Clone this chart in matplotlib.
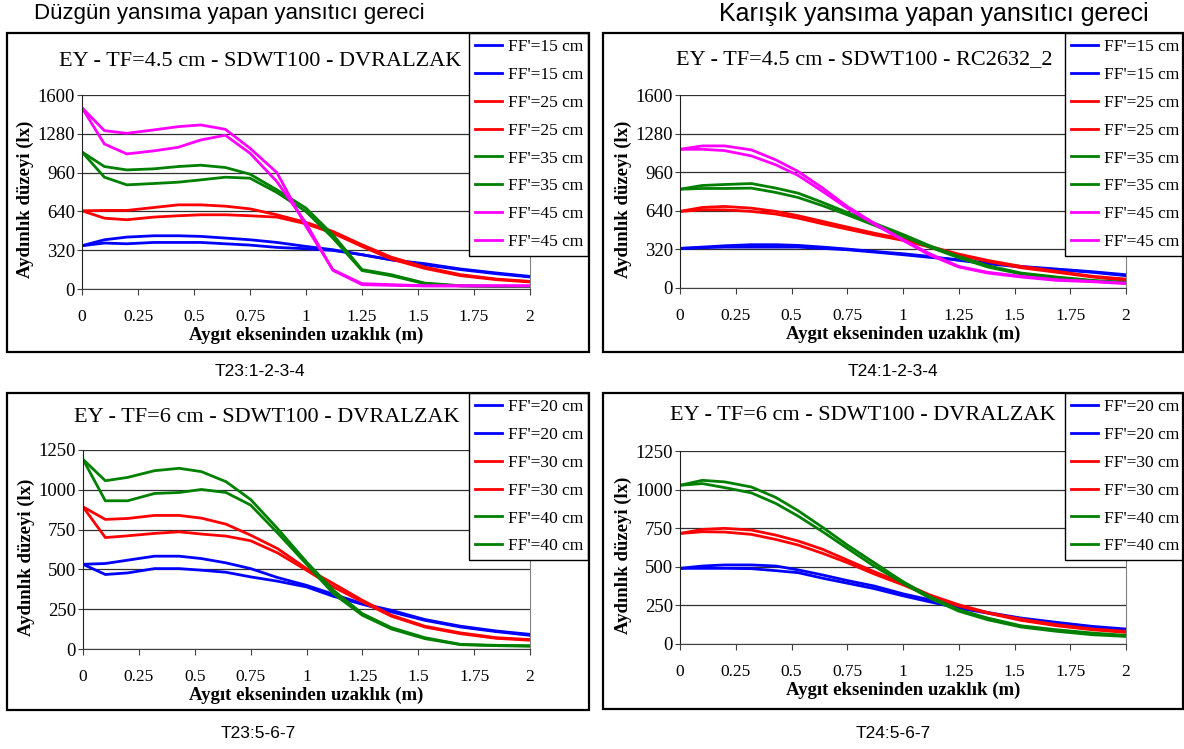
import matplotlib.pyplot as plt
from matplotlib.patches import Rectangle

# distance from the luminaire axis (m), same for every curve
dist = [0, 0.1, 0.2, 0.32, 0.43, 0.53, 0.64, 0.75, 0.87, 1.0, 1.12, 1.25, 1.38, 1.53, 1.69, 1.85, 2.0]

# T23:1-2-3-4  (TF=4.5 cm, DVRALZAK)
t23a_15a = [357, 406, 428, 439, 439, 434, 420, 406, 384, 351, 324, 283, 241, 209, 165, 132, 104]
t23a_15b = [357, 379, 373, 384, 384, 384, 373, 362, 343, 332, 318, 283, 241, 200, 160, 126, 99]
t23a_25a = [645, 648, 648, 672, 694, 694, 683, 661, 612, 549, 475, 365, 263, 181, 118, 82, 63]
t23a_25b = [645, 584, 571, 593, 604, 612, 612, 604, 593, 538, 461, 351, 247, 170, 110, 77, 58]
t23a_35a = [1130, 1010, 982, 991, 1010, 1021, 1002, 947, 818, 667, 447, 160, 118, 49, 27, 22, 22]
t23a_35b = [1130, 922, 859, 870, 881, 900, 922, 914, 796, 639, 420, 152, 110, 44, 25, 20, 20]
t23a_45a = [1495, 1306, 1284, 1312, 1339, 1353, 1317, 1161, 960, 516, 159, 44, 36, 27, 27, 27, 27]
t23a_45b = [1495, 1196, 1114, 1139, 1169, 1229, 1268, 1120, 886, 543, 154, 36, 30, 25, 25, 25, 25]

# T24:1-2-3-4  (TF=4.5 cm, RC2632_2)
t24a_15a = [328, 339, 350, 359, 359, 353, 339, 323, 303, 284, 262, 229, 201, 174, 152, 130, 102]
t24a_15b = [328, 334, 339, 339, 339, 339, 328, 317, 298, 276, 254, 235, 207, 179, 157, 135, 110]
t24a_25a = [635, 668, 676, 662, 635, 599, 552, 505, 455, 406, 345, 281, 229, 179, 138, 97, 74]
t24a_25b = [635, 648, 648, 635, 613, 579, 532, 488, 441, 395, 339, 273, 221, 168, 130, 91, 63]
t24a_35a = [819, 850, 858, 866, 828, 786, 709, 626, 538, 444, 350, 262, 185, 124, 91, 63, 47]
t24a_35b = [819, 825, 825, 828, 792, 750, 682, 607, 521, 428, 339, 251, 174, 116, 83, 58, 41]
t24a_45a = [1150, 1178, 1178, 1145, 1062, 966, 828, 676, 538, 400, 284, 179, 130, 97, 69, 55, 41]
t24a_45b = [1150, 1150, 1139, 1095, 1021, 933, 800, 662, 530, 395, 273, 174, 124, 91, 63, 52, 36]

# T23:5-6-7  (TF=6 cm)
t23b_20a = [532, 537, 558, 583, 583, 568, 541, 505, 449, 400, 344, 285, 243, 185, 143, 113, 92]
t23b_20b = [532, 468, 478, 505, 505, 495, 482, 453, 426, 390, 331, 281, 233, 180, 138, 109, 86]
t23b_30a = [893, 814, 820, 839, 839, 822, 784, 715, 631, 505, 411, 306, 212, 143, 101, 71, 59]
t23b_30b = [893, 700, 711, 726, 736, 722, 709, 680, 604, 495, 390, 296, 206, 138, 96, 67, 55]
t23b_40a = [1191, 1057, 1078, 1120, 1135, 1114, 1051, 939, 757, 547, 369, 222, 134, 71, 29, 23, 21]
t23b_40b = [1191, 931, 931, 977, 983, 1002, 983, 904, 730, 533, 348, 212, 126, 65, 27, 21, 17]

# T24:5-6-7  (TF=6 cm)
t24b_20a = [490, 505, 512, 512, 505, 480, 447, 411, 376, 325, 286, 239, 204, 168, 140, 114, 97]
t24b_20b = [490, 490, 490, 488, 475, 462, 426, 394, 359, 312, 273, 232, 200, 161, 136, 110, 88]
t24b_30a = [716, 742, 749, 738, 705, 667, 613, 544, 469, 394, 318, 254, 204, 161, 125, 97, 82]
t24b_30b = [716, 727, 725, 710, 677, 641, 587, 527, 454, 383, 312, 247, 200, 153, 118, 92, 75]
t24b_40a = [1028, 1060, 1050, 1017, 949, 863, 755, 641, 527, 404, 307, 222, 168, 118, 92, 71, 56]
t24b_40b = [1028, 1039, 1013, 979, 910, 828, 727, 620, 505, 394, 297, 213, 157, 110, 82, 60, 49]

labels_a = ["FF'=15 cm", "FF'=15 cm", "FF'=25 cm", "FF'=25 cm",
            "FF'=35 cm", "FF'=35 cm", "FF'=45 cm", "FF'=45 cm"]
labels_b = ["FF'=20 cm", "FF'=20 cm", "FF'=30 cm", "FF'=30 cm",
            "FF'=40 cm", "FF'=40 cm"]
colors = ['#0000FF', '#0000FF', '#FF0000', '#FF0000', '#008000', '#008000', '#FF00FF', '#FF00FF']

W, H = 1184, 749
serif = 'Liberation Serif'
sans = 'Liberation Sans'

fig = plt.figure(figsize=(W / 100, H / 100), dpi=100)


def px(x, y):
    # pixel position (from top-left) -> figure fraction
    return x / W, 1 - y / H


def panel(rect, series, labels, ymax, ystep, title, title_xy, leg_xy, frame):
    x0, y0, x1, y1 = rect
    ax = fig.add_axes([x0 / W, 1 - y1 / H, (x1 - x0) / W, (y1 - y0) / H])
    for vals, lab, col in zip(series, labels, colors):
        ax.plot(dist, vals, color=col, lw=2.0, label=lab)
    ax.set_xlim(0, 2)
    ax.set_ylim(0, ymax)
    ax.set_xticks([0, 0.25, 0.5, 0.75, 1, 1.25, 1.5, 1.75, 2])
    ax.set_xticklabels(['0', '0.25', '0.5', '0.75', '1', '1.25', '1.5', '1.75', '2'])
    ax.set_yticks(range(0, ymax + 1, ystep))
    ax.yaxis.grid(True, color='#303030', lw=0.9)
    ax.set_axisbelow(True)
    for lab in ax.get_xticklabels() + ax.get_yticklabels():
        lab.set_fontfamily(serif)
    ax.tick_params(axis='x', direction='out', length=4.5, pad=10, labelsize=12.5, color='#404040')
    ax.tick_params(axis='y', direction='out', length=3.5, pad=1.5, labelsize=13.5, color='#404040')
    ax.spines['top'].set_visible(False)
    ax.spines['right'].set_color('#808080')
    ax.spines['left'].set_color('#202020')
    ax.spines['bottom'].set_color('#404040')
    ax.set_xlabel('Aygıt ekseninden uzaklık (m)', fontfamily=serif, fontweight='bold', fontsize=13.5)
    ax.set_ylabel('Aydınlık düzeyi (lx)', fontfamily=serif, fontweight='bold', fontsize=13.5)
    ax.xaxis.set_label_coords(0.5, -38 / (y1 - y0))
    ax.yaxis.set_label_coords(-48 / (x1 - x0), 0.46)
    fig.text(*px(*title_xy), title, fontfamily=serif, fontsize=16, ha='center', va='center')
    ax.legend(loc='upper left', bbox_to_anchor=px(*leg_xy), bbox_transform=fig.transFigure,
              borderaxespad=0, prop={'family': serif, 'size': 12.5}, frameon=True,
              fancybox=False, framealpha=1, edgecolor='black', borderpad=0.32,
              labelspacing=0.68, handlelength=1.6, handletextpad=0.3)
    ax.get_legend().get_frame().set_linewidth(1.0)
    fx0, fy0, fx1, fy1 = frame
    fig.patches.append(Rectangle(px(fx0, fy1), (fx1 - fx0) / W, (fy1 - fy0) / H,
                                 transform=fig.transFigure, fill=False, ec='black', lw=1.6))
    return ax


panel((82, 95, 530, 289),
      [t23a_15a, t23a_15b, t23a_25a, t23a_25b, t23a_35a, t23a_35b, t23a_45a, t23a_45b],
      labels_a, 1600, 320, 'EY - TF=4.5 cm - SDWT100 - DVRALZAK', (260, 62),
      (469, 33), (7, 33, 589, 352))
panel((680, 95, 1126, 288),
      [t24a_15a, t24a_15b, t24a_25a, t24a_25b, t24a_35a, t24a_35b, t24a_45a, t24a_45b],
      labels_a, 1600, 320, 'EY - TF=4.5 cm - SDWT100 - RC2632_2', (864, 60),
      (1065, 33), (603, 33, 1183, 352))
panel((83, 450, 530, 649),
      [t23b_20a, t23b_20b, t23b_30a, t23b_30b, t23b_40a, t23b_40b],
      labels_b, 1250, 250, 'EY - TF=6 cm - SDWT100 - DVRALZAK', (267, 417),
      (469, 393), (7, 393, 589, 710))
panel((680, 451, 1126, 644),
      [t24b_20a, t24b_20b, t24b_30a, t24b_30b, t24b_40a, t24b_40b],
      labels_b, 1250, 250, 'EY - TF=6 cm - SDWT100 - DVRALZAK', (863, 416),
      (1065, 393), (603, 393, 1183, 709))

# headers and captions
fig.text(*px(229, 14), 'Düzgün yansıma yapan yansıtıcı gereci', fontfamily=sans, fontsize=16,
         ha='center', va='center')
fig.text(*px(934, 14), 'Karışık yansıma yapan yansıtıcı gereci', fontfamily=sans, fontsize=18,
         ha='center', va='center')
fig.text(*px(260, 372), 'T23:1-2-3-4', fontfamily=sans, fontsize=12.5, ha='center', va='center')
fig.text(*px(893, 372), 'T24:1-2-3-4', fontfamily=sans, fontsize=12.5, ha='center', va='center')
fig.text(*px(258, 733), 'T23:5-6-7', fontfamily=sans, fontsize=12.5, ha='center', va='center')
fig.text(*px(893, 733), 'T24:5-6-7', fontfamily=sans, fontsize=12.5, ha='center', va='center')

plt.savefig('out.png', dpi=100)
